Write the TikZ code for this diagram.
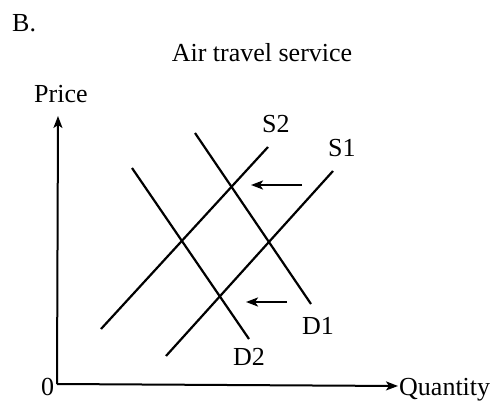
\documentclass[tikz,border=0pt]{standalone}
\usepackage{fontspec}
\setmainfont{Liberation Serif}
\usetikzlibrary{arrows.meta}
\begin{document}
\begin{tikzpicture}[x=1pt,y=-1pt,
  curve/.style={line width=2.2pt},
  axis/.style={line width=2pt,-{Stealth[length=12pt,width=9pt,inset=3pt]}},
  shiftarrow/.style={line width=2.3pt,-{Stealth[length=12pt,width=9pt,inset=3pt]}},
  lbl/.style={inner sep=0pt,font=\fontsize{26}{28}\selectfont}]
\useasboundingbox (0,0) rectangle (493,401);
% text
\node[lbl,anchor=base west] (B) at (12,32) {B.};
\node[lbl,anchor=base] (title) at (262,62) {Air travel service};
\node[lbl,anchor=base west] (price) at (34,103) {Price};
\node[lbl,anchor=base west] (zero) at (41,395) {0};
\node[lbl,anchor=base west] (qty) at (399,395) {Quantity};
\node[lbl,anchor=base west] (s2) at (262,133) {S2};
\node[lbl,anchor=base west] (s1) at (328,157) {S1};
\node[lbl,anchor=base west] (d1) at (302,334) {D1};
\node[lbl,anchor=base west] (d2) at (233,365) {D2};
% axes
\coordinate (O) at (57,384);
\coordinate (ytop) at (58,116);
\coordinate (xend) at (398,386);
\draw[axis] (O) -- (ytop);
\draw[axis] (O) -- (xend);
% curves
\coordinate (S2a) at (101,329); \coordinate (S2b) at (268,147);
\coordinate (S1a) at (166,356); \coordinate (S1b) at (333,171);
\coordinate (D1a) at (195,133); \coordinate (D1b) at (311,304);
\coordinate (D2a) at (132,168); \coordinate (D2b) at (249,339);
\draw[curve] (S2a) -- (S2b);
\draw[curve] (S1a) -- (S1b);
\draw[curve] (D1a) -- (D1b);
\draw[curve] (D2a) -- (D2b);
% shift arrows
\coordinate (a1s) at (302,185); \coordinate (a1e) at (251,185);
\coordinate (a2s) at (287,302); \coordinate (a2e) at (246,302);
\draw[shiftarrow] (a1s) -- (a1e);
\draw[shiftarrow] (a2s) -- (a2e);
\end{tikzpicture}
\end{document}
